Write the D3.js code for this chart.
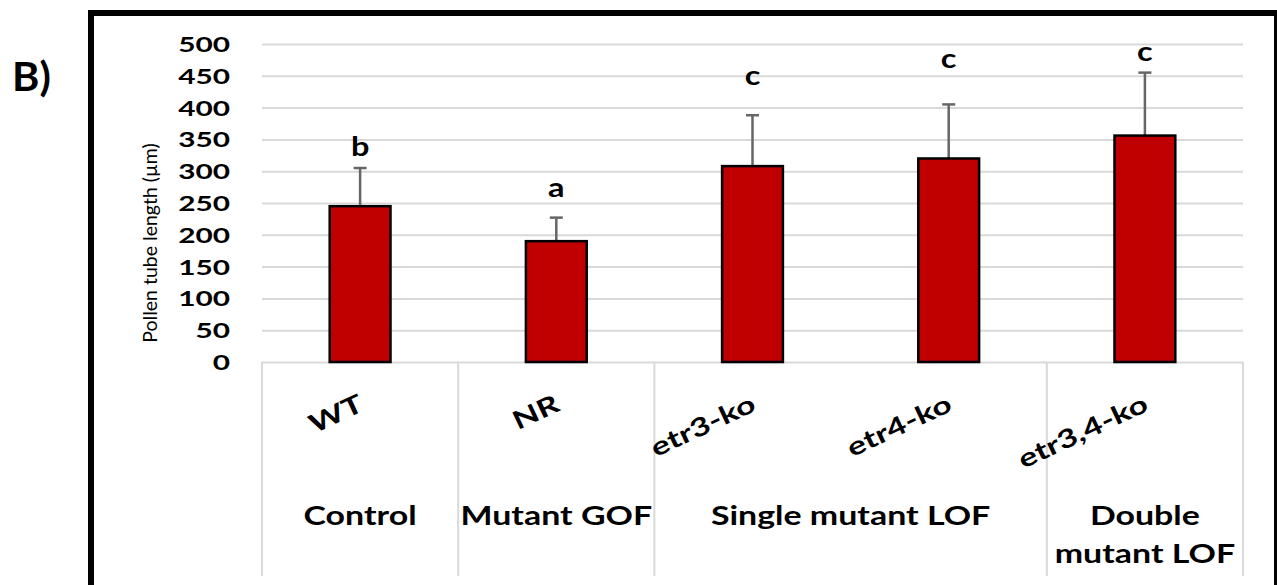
<!DOCTYPE html>
<html>
<head>
<meta charset="utf-8">
<script src="https://cdn.jsdelivr.net/npm/d3@7"></script>
<style>
  body { margin: 0; background: #fff; }
  svg { display: block; }
  text { font-family: Lato, "Open Sans", "Liberation Sans", sans-serif; fill: #000; }
</style>
</head>
<body>
<svg id="chart" width="1277" height="585"></svg>
<script>
// Pollen tube length per genotype (mean with upward SD bar) and significance letters
const categories = ["WT", "NR", "etr3-ko", "etr4-ko", "etr3,4-ko"];
const means = [245, 190, 308, 320, 356];
const errors = [60, 37, 80, 85, 99];
const letters = ["b", "a", "c", "c", "c"];
const letterLevels = [336, 272, 448, 475, 486];   // where each letter sits, in axis units
const groupLabels = [["Control"], ["Mutant GOF"], ["Single mutant LOF"], ["Double", "mutant LOF"]];
const groupSizes = [1, 1, 2, 1];
const yTicks = [0, 50, 100, 150, 200, 250, 300, 350, 400, 450, 500];
const yTitle = "Pollen tube length (\u00b5m)";
const panelTag = "B)";

const svg = d3.select("#chart");
const plotLeft = 262, plotRight = 1243, plotTop = 44, plotBottom = 362, tableBottom = 576;

const x = d3.scaleBand().domain(categories).range([plotLeft, plotRight]).padding(0);
const y = d3.scaleLinear().domain([0, 500]).range([plotBottom, plotTop]);
const barW = x.bandwidth() * 0.31;
const cx = c => x(c) + x.bandwidth() / 2;

// outer frame
svg.append("rect")
  .attr("x", 91).attr("y", 13).attr("width", 1186).attr("height", 640)
  .attr("fill", "none").attr("stroke", "#000").attr("stroke-width", 6);

// panel tag
svg.append("text").attr("x", 12).attr("y", 91)
  .attr("transform", "translate(12,0) scale(1.04,1) translate(-12,0)")
  .attr("font-size", 40).attr("font-weight", 700).text(panelTag);

// gridlines + tick labels
const yAxis = svg.append("g")
  .attr("transform", `translate(${plotLeft},0)`)
  .call(d3.axisLeft(y).tickValues(yTicks).tickSize(-(plotRight - plotLeft)).tickPadding(0));
yAxis.select(".domain").remove();
yAxis.selectAll(".tick line").attr("stroke", "#d9d9d9").attr("stroke-width", 2);
yAxis.selectAll(".tick text")
  .attr("x", 0).attr("dy", "0.36em")
  .attr("transform", "translate(-32,0) scale(1.42,1)")
  .attr("font-size", 21).attr("font-weight", 700)
  .attr("font-family", "Lato, 'Open Sans', sans-serif").attr("fill", "#000");

// y title
svg.append("text")
  .attr("transform", "translate(157,243) rotate(-90)")
  .attr("text-anchor", "middle").attr("font-size", 19.5)
  .text(yTitle);

// category table: separators between groups
const bounds = [0];
groupSizes.forEach(s => bounds.push(bounds[bounds.length - 1] + s));
svg.append("g").selectAll("line").data(bounds).join("line")
  .attr("x1", b => plotLeft + b * x.step()).attr("x2", b => plotLeft + b * x.step())
  .attr("y1", plotBottom).attr("y2", tableBottom)
  .attr("stroke", "#d9d9d9").attr("stroke-width", 2);

// group labels
const gl = svg.append("g").selectAll("g").data(groupLabels).join("g")
  .attr("transform", (d, i) => {
    const mid = plotLeft + (bounds[i] + bounds[i + 1]) / 2 * x.step();
    return `translate(${mid},525)`;
  });
gl.selectAll("text").data(d => d).join("text")
  .attr("transform", (d, j) => `translate(0,${j * 38}) scale(1.28,1)`)
  .attr("text-anchor", "middle").attr("font-size", 26.5).attr("font-weight", 700)
  .text(d => d);

// rotated category labels
svg.append("g").selectAll("text").data(categories).join("text")
  .attr("transform", c => `translate(${cx(c) + 5},410) rotate(-25) scale(1.33,1)`)
  .attr("text-anchor", "end").attr("font-size", 25.5).attr("font-weight", 700)
  .text(c => c);

// error bars (upper only)
const err = svg.append("g").selectAll("g").data(categories).join("g");
err.append("line")
  .attr("x1", cx).attr("x2", cx)
  .attr("y1", (c, i) => y(means[i])).attr("y2", (c, i) => y(means[i] + errors[i]))
  .attr("stroke", "#666").attr("stroke-width", 2.5);
err.append("line")
  .attr("x1", c => cx(c) - 6.5).attr("x2", c => cx(c) + 6.5)
  .attr("y1", (c, i) => y(means[i] + errors[i])).attr("y2", (c, i) => y(means[i] + errors[i]))
  .attr("stroke", "#666").attr("stroke-width", 2.5);

// bars
svg.append("g").selectAll("rect").data(categories).join("rect")
  .attr("x", c => cx(c) - barW / 2).attr("width", barW)
  .attr("y", (c, i) => y(means[i])).attr("height", (c, i) => y(0) - y(means[i]))
  .attr("fill", "#c00000").attr("stroke", "#000").attr("stroke-width", 2.5);

// significance letters
svg.append("g").selectAll("text").data(categories).join("text")
  .attr("transform", (c, i) => `translate(${cx(c)},${y(letterLevels[i])}) scale(1.25,1)`)
  .attr("dy", "0.3em")
  .attr("text-anchor", "middle").attr("font-size", 26).attr("font-weight", 700)
  .text((c, i) => letters[i]);
</script>
</body>
</html>
